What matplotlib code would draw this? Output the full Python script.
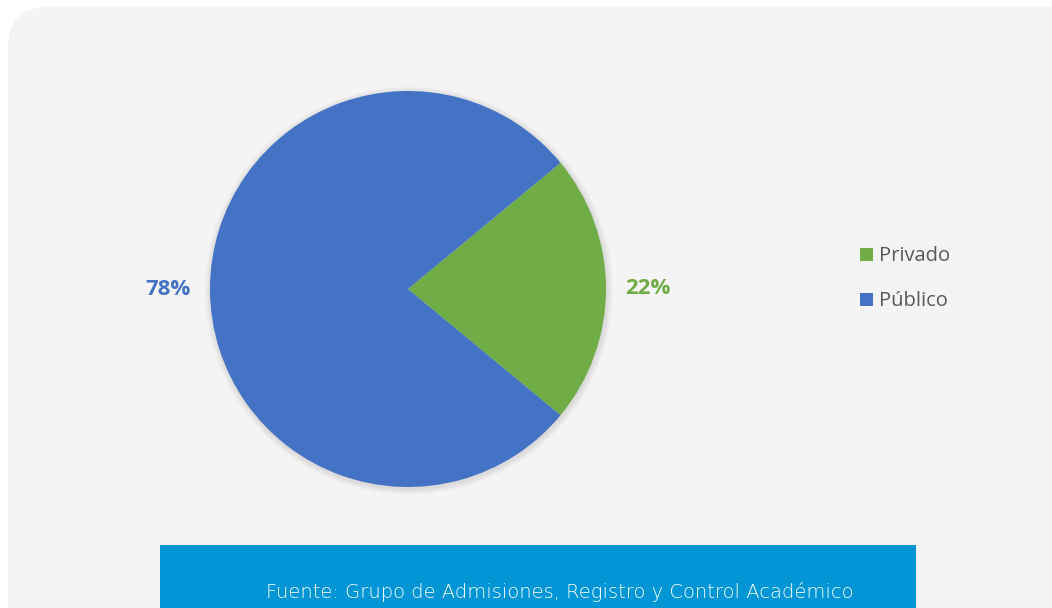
import matplotlib.pyplot as plt
from matplotlib.patches import FancyBboxPatch, Rectangle, Patch, Circle
from matplotlib.transforms import IdentityTransform

# data
categories = ['Privado', 'Público']
values = [22, 78]
colors = ['#70AD47', '#4472C4']
source = 'Fuente: Grupo de Admisiones, Registro y Control Académico'

W, H = 1052, 608
fig = plt.figure(figsize=(W / 100, H / 100), dpi=100)
fig.patch.set_facecolor('white')

# rounded card background (pixel coordinates, origin bottom-left)
card = FancyBboxPatch((8, -40), W + 40, H - 7 + 40,
                      boxstyle='round,pad=0,rounding_size=40',
                      transform=IdentityTransform(), facecolor='#f4f4f4',
                      edgecolor='none', zorder=-2)
fig.patches.append(card)

# blue source bar
bar = Rectangle((160, 0), 916 - 160, 608 - 545, transform=IdentityTransform(),
                facecolor='#0096d6', edgecolor='none', zorder=-1)
fig.patches.append(bar)
fig.text(560 / W, 1 - 592 / H, source, color='white', fontsize=14,
         ha='center', va='center', family='DejaVu Sans', fontweight='light')

# pie
cx, cy, r = 408, 289, 198
ax = fig.add_axes([(cx - r) / W, (H - cy - r) / H, 2 * r / W, 2 * r / H])
ax.patch.set_visible(False)
# soft shadow around the pie
for k in range(5):
    ax.add_patch(Circle((0.004, -0.008), 1.0 + 0.006 * (k + 1), facecolor='#000000',
                        alpha=0.018, edgecolor='none', zorder=0, clip_on=False))
wedges, texts, autotexts = ax.pie(values, colors=colors, startangle=-39.6,
                                  autopct='%1.0f%%', pctdistance=1.21,
                                  wedgeprops=dict(linewidth=0, zorder=2),
                                  textprops=dict(fontsize=16, fontweight='bold', family='Open Sans'))
for t, c in zip(autotexts, colors):
    t.set_color(c)
ax.set_xlim(-1, 1)
ax.set_ylim(-1, 1)
ax.set_aspect('equal')
ax.axis('off')

handles = [Patch(facecolor=c, edgecolor='none') for c in colors]
leg = fig.legend(handles, categories, loc='upper left',
                 bbox_to_anchor=(842 / W, 1 - 228 / H), frameon=False,
                 handlelength=0.62, handleheight=0.62, handletextpad=0.3,
                 labelspacing=1.25, prop=dict(family='Open Sans', size=14.5))
for t in leg.get_texts():
    t.set_color('#595959')

fig.savefig('out.png', dpi=100)
